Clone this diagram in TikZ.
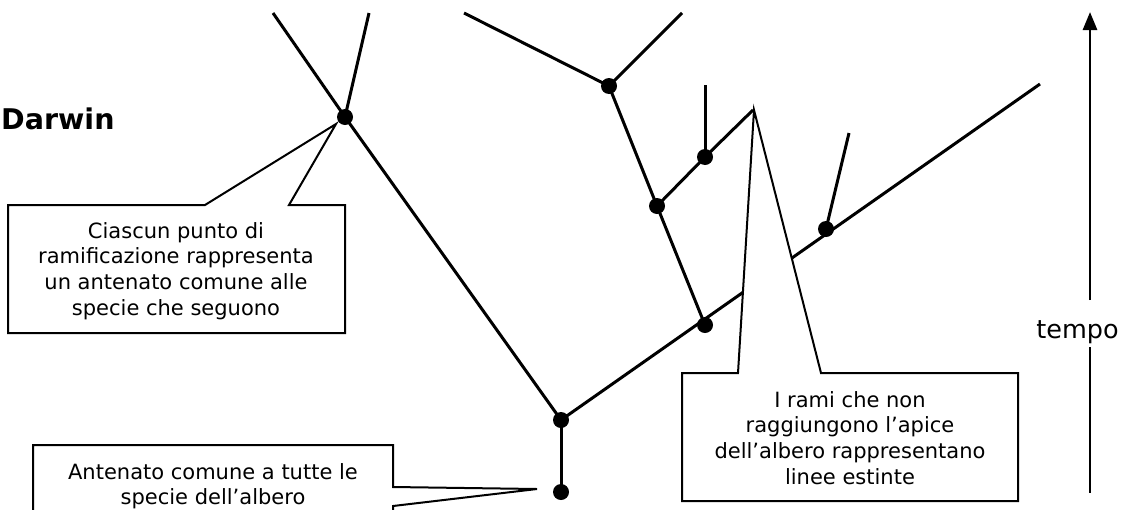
\documentclass[tikz,border=0pt]{standalone}
\usepackage{fontspec}
\setmainfont{DejaVu Sans}
\usetikzlibrary{arrows.meta}
\tikzset{
  branch/.style={line width=3pt},
  dot/.style={circle, fill=black, inner sep=0pt, minimum size=16pt},
  callout/.style={draw=black, fill=white, line width=2pt, line join=miter},
  boxtext/.style={font=\fontsize{21}{25.7}\selectfont, align=center, inner sep=0pt, anchor=north},
  timeline/.style={line width=2.8pt},
}
\begin{document}
\begin{tikzpicture}[x=1pt,y=-1pt]
\useasboundingbox (0,0) rectangle (1129,509);
\clip (0,0) rectangle (1129,509);

% title fragment
\node[font=\fontsize{28.5}{31}\selectfont\bfseries, anchor=base west, inner sep=0pt] (title) at (1,129) {Darwin};

% tree nodes
\node[dot] (A) at (345,117) {};
\node[dot] (B) at (609,86) {};
\node[dot] (C) at (705,157) {};
\node[dot] (D) at (657,206) {};
\node[dot] (E) at (705,325) {};
\node[dot] (F) at (826,229) {};
\node[dot] (G) at (561,420) {};
\node[dot] (H) at (561,492) {};

% free ends of branches
\coordinate (a1) at (273,13);
\coordinate (a2) at (369,13);
\coordinate (b1) at (464,13);
\coordinate (b2) at (682,13);
\coordinate (c1) at (705,85);
\coordinate (ctip) at (753,110);
\coordinate (f1) at (849,133);
\coordinate (gend) at (1040,84);

% branches
\draw[branch] (a1) -- (A.center);
\draw[branch] (a2) -- (A.center);
\draw[branch] (A.center) -- (G.center);
\draw[branch] (b1) -- (B.center);
\draw[branch] (b2) -- (B.center);
\draw[branch] (B.center) -- (D.center) -- (E.center);
\draw[branch] (D.center) -- (C.center) -- (ctip);
\draw[branch] (C.center) -- (c1);
\draw[branch] (F.center) -- (f1);
\draw[branch] (G.center) -- (gend);
\draw[branch] (G.center) -- (H.center);

% callout 1
\draw[callout] (8,205) -- (205,205) -- (336,124) -- (289,205) -- (345,205)
  -- (345,333) -- (8,333) -- cycle;
\node[boxtext] (t1) at (176,222) {Ciascun punto di\\ramificazione rappresenta\\un antenato comune alle\\specie che seguono};

% callout 2
\draw[callout] (33,445) -- (393,445) -- (393,487) -- (537,489) -- (393,506)
  -- (393,530) -- (33,530) -- cycle;
\node[boxtext] (t2) at (213,463) {Antenato comune a tutte le\\specie dell’albero};

% callout 3
\draw[callout] (682,373) -- (738,373) -- (754,110) -- (821,373) -- (1018,373)
  -- (1018,501) -- (682,501) -- cycle;
\node[boxtext] (t3) at (850,391) {I rami che non\\raggiungono l’apice\\dell’albero rappresentano\\linee estinte};

% time axis
\coordinate (ttop) at (1090,12);
\coordinate (tup) at (1090,300);
\coordinate (tdown) at (1090,347);
\coordinate (tbot) at (1090,493);
\node[font=\fontsize{25.5}{30}\selectfont, anchor=base, inner sep=0pt] (tempo) at (1077.5,338) {tempo};
\draw[timeline, -{Triangle[width=14pt,length=18pt]}] (tup) -- (ttop);
\draw[timeline] (tdown) -- (tbot);
\end{tikzpicture}
\end{document}
